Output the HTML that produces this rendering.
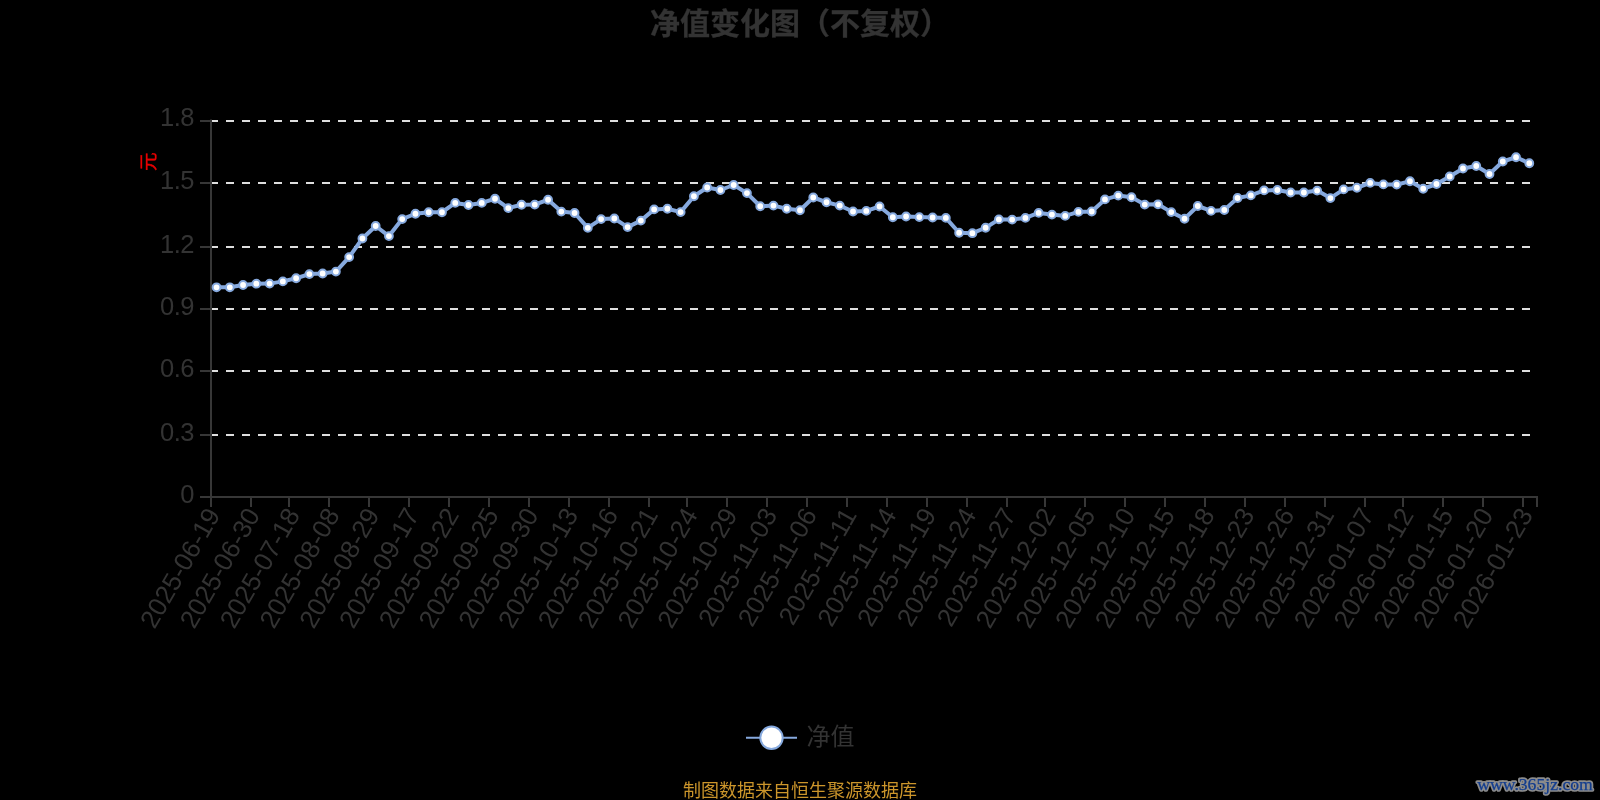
<!DOCTYPE html>
<html lang="zh-CN">
<head>
<meta charset="utf-8">
<title>净值变化图（不复权）</title>
<style>
html,body{margin:0;padding:0;background:#000;}
body{width:1600px;height:800px;overflow:hidden;position:relative;}
svg{display:block;position:absolute;left:0;top:0;will-change:transform;}
text{font-family:"Liberation Sans","Noto Sans CJK SC",sans-serif;}
.ax{font-size:26px;fill:#333333;}
.ay{font-size:25.5px;letter-spacing:-0.5px;}
.title{font-size:30px;font-weight:bold;fill:#333333;stroke:#333333;stroke-width:0.3px;}
.leg{font-size:24px;fill:#333333;}
.src{font-size:18px;fill:#cb952b;}
.unit{font-size:18.5px;fill:#e60000;stroke:#e60000;stroke-width:0.35px;}
.wm{font-family:"Liberation Serif","DejaVu Serif",serif;font-size:17px;}
.wmo{fill:#8c8c8c;stroke:#8c8c8c;stroke-width:3.6px;stroke-linejoin:round;}
.wmi{fill:#123c8e;stroke:#123c8e;stroke-width:0.25px;}
</style>
</head>
<body>
<svg width="1600" height="800" viewBox="0 0 1600 800">
<rect x="0" y="0" width="1600" height="800" fill="#000000"/>
<text class="title" x="800" y="33.5" text-anchor="middle">净值变化图（不复权）</text>
<g stroke="#dedede" stroke-width="2" stroke-dasharray="8 8" fill="none">
<line x1="210" y1="121" x2="1536" y2="121"/>
<line x1="210" y1="183" x2="1536" y2="183"/>
<line x1="210" y1="247" x2="1536" y2="247"/>
<line x1="210" y1="309" x2="1536" y2="309"/>
<line x1="210" y1="371" x2="1536" y2="371"/>
<line x1="210" y1="435" x2="1536" y2="435"/>
</g>
<g stroke="#373737" stroke-width="2" fill="none">
<line x1="211" y1="119.5" x2="211" y2="507"/>
<line x1="210" y1="497" x2="1538" y2="497"/>
<line x1="200" y1="121" x2="210" y2="121"/>
<line x1="200" y1="183" x2="210" y2="183"/>
<line x1="200" y1="247" x2="210" y2="247"/>
<line x1="200" y1="309" x2="210" y2="309"/>
<line x1="200" y1="371" x2="210" y2="371"/>
<line x1="200" y1="435" x2="210" y2="435"/>
<line x1="200" y1="497" x2="210" y2="497"/>
<line x1="211" y1="497" x2="211" y2="507"/>
<line x1="251" y1="497" x2="251" y2="507"/>
<line x1="289" y1="497" x2="289" y2="507"/>
<line x1="329" y1="497" x2="329" y2="507"/>
<line x1="369" y1="497" x2="369" y2="507"/>
<line x1="409" y1="497" x2="409" y2="507"/>
<line x1="449" y1="497" x2="449" y2="507"/>
<line x1="489" y1="497" x2="489" y2="507"/>
<line x1="529" y1="497" x2="529" y2="507"/>
<line x1="569" y1="497" x2="569" y2="507"/>
<line x1="609" y1="497" x2="609" y2="507"/>
<line x1="649" y1="497" x2="649" y2="507"/>
<line x1="687" y1="497" x2="687" y2="507"/>
<line x1="727" y1="497" x2="727" y2="507"/>
<line x1="767" y1="497" x2="767" y2="507"/>
<line x1="807" y1="497" x2="807" y2="507"/>
<line x1="847" y1="497" x2="847" y2="507"/>
<line x1="887" y1="497" x2="887" y2="507"/>
<line x1="927" y1="497" x2="927" y2="507"/>
<line x1="967" y1="497" x2="967" y2="507"/>
<line x1="1007" y1="497" x2="1007" y2="507"/>
<line x1="1045" y1="497" x2="1045" y2="507"/>
<line x1="1085" y1="497" x2="1085" y2="507"/>
<line x1="1125" y1="497" x2="1125" y2="507"/>
<line x1="1165" y1="497" x2="1165" y2="507"/>
<line x1="1205" y1="497" x2="1205" y2="507"/>
<line x1="1245" y1="497" x2="1245" y2="507"/>
<line x1="1285" y1="497" x2="1285" y2="507"/>
<line x1="1325" y1="497" x2="1325" y2="507"/>
<line x1="1365" y1="497" x2="1365" y2="507"/>
<line x1="1403" y1="497" x2="1403" y2="507"/>
<line x1="1443" y1="497" x2="1443" y2="507"/>
<line x1="1483" y1="497" x2="1483" y2="507"/>
<line x1="1523" y1="497" x2="1523" y2="507"/>
<line x1="1537" y1="497" x2="1537" y2="507"/>
</g>
<g class="ax ay" text-anchor="end">
<text x="194" y="125.9">1.8</text>
<text x="194" y="188.8">1.5</text>
<text x="194" y="252.8">1.2</text>
<text x="194" y="314.8">0.9</text>
<text x="194" y="376.8">0.6</text>
<text x="194" y="440.8">0.3</text>
<text x="194" y="502.8">0</text>
</g>
<g class="ax" text-anchor="end">
<text transform="translate(216.90 512.4) rotate(-60)" x="0" y="4.8">2025-06-19</text>
<text transform="translate(256.68 512.4) rotate(-60)" x="0" y="4.8">2025-06-30</text>
<text transform="translate(296.46 512.4) rotate(-60)" x="0" y="4.8">2025-07-18</text>
<text transform="translate(336.24 512.4) rotate(-60)" x="0" y="4.8">2025-08-08</text>
<text transform="translate(376.02 512.4) rotate(-60)" x="0" y="4.8">2025-08-29</text>
<text transform="translate(415.80 512.4) rotate(-60)" x="0" y="4.8">2025-09-17</text>
<text transform="translate(455.58 512.4) rotate(-60)" x="0" y="4.8">2025-09-22</text>
<text transform="translate(495.36 512.4) rotate(-60)" x="0" y="4.8">2025-09-25</text>
<text transform="translate(535.14 512.4) rotate(-60)" x="0" y="4.8">2025-09-30</text>
<text transform="translate(574.92 512.4) rotate(-60)" x="0" y="4.8">2025-10-13</text>
<text transform="translate(614.70 512.4) rotate(-60)" x="0" y="4.8">2025-10-16</text>
<text transform="translate(654.48 512.4) rotate(-60)" x="0" y="4.8">2025-10-21</text>
<text transform="translate(694.26 512.4) rotate(-60)" x="0" y="4.8">2025-10-24</text>
<text transform="translate(734.04 512.4) rotate(-60)" x="0" y="4.8">2025-10-29</text>
<text transform="translate(773.82 512.4) rotate(-60)" x="0" y="4.8">2025-11-03</text>
<text transform="translate(813.60 512.4) rotate(-60)" x="0" y="4.8">2025-11-06</text>
<text transform="translate(853.38 512.4) rotate(-60)" x="0" y="4.8">2025-11-11</text>
<text transform="translate(893.16 512.4) rotate(-60)" x="0" y="4.8">2025-11-14</text>
<text transform="translate(932.94 512.4) rotate(-60)" x="0" y="4.8">2025-11-19</text>
<text transform="translate(972.72 512.4) rotate(-60)" x="0" y="4.8">2025-11-24</text>
<text transform="translate(1012.50 512.4) rotate(-60)" x="0" y="4.8">2025-11-27</text>
<text transform="translate(1052.28 512.4) rotate(-60)" x="0" y="4.8">2025-12-02</text>
<text transform="translate(1092.06 512.4) rotate(-60)" x="0" y="4.8">2025-12-05</text>
<text transform="translate(1131.84 512.4) rotate(-60)" x="0" y="4.8">2025-12-10</text>
<text transform="translate(1171.62 512.4) rotate(-60)" x="0" y="4.8">2025-12-15</text>
<text transform="translate(1211.40 512.4) rotate(-60)" x="0" y="4.8">2025-12-18</text>
<text transform="translate(1251.18 512.4) rotate(-60)" x="0" y="4.8">2025-12-23</text>
<text transform="translate(1290.96 512.4) rotate(-60)" x="0" y="4.8">2025-12-26</text>
<text transform="translate(1330.74 512.4) rotate(-60)" x="0" y="4.8">2025-12-31</text>
<text transform="translate(1370.52 512.4) rotate(-60)" x="0" y="4.8">2026-01-07</text>
<text transform="translate(1410.30 512.4) rotate(-60)" x="0" y="4.8">2026-01-12</text>
<text transform="translate(1450.08 512.4) rotate(-60)" x="0" y="4.8">2026-01-15</text>
<text transform="translate(1489.86 512.4) rotate(-60)" x="0" y="4.8">2026-01-20</text>
<text transform="translate(1529.64 512.4) rotate(-60)" x="0" y="4.8">2026-01-23</text>
</g>
<text class="unit" text-anchor="middle" transform="translate(148.9 161.8) rotate(-90)" x="0" y="6.5">元</text>
<polyline points="216.55,287.30 229.81,287.30 243.07,285.00 256.33,283.70 269.59,283.60 282.85,281.40 296.11,278.25 309.37,274.10 322.63,273.50 335.89,271.60 349.15,257.10 362.41,238.50 375.67,226.00 388.93,236.10 402.19,219.10 415.45,213.75 428.71,212.25 441.97,212.25 455.23,202.90 468.49,205.00 481.75,202.90 495.01,198.75 508.27,208.10 521.53,204.75 534.79,204.60 548.05,199.75 561.31,211.60 574.57,213.00 587.83,227.80 601.09,219.10 614.35,218.50 627.61,227.10 640.87,220.60 654.13,209.40 667.39,208.75 680.65,212.10 693.91,196.25 707.17,187.50 720.43,190.00 733.69,185.00 746.95,193.10 760.21,206.25 773.47,205.60 786.73,208.75 799.99,210.25 813.25,197.50 826.51,202.25 839.77,205.60 853.03,211.50 866.29,210.90 879.55,206.50 892.81,217.25 906.07,216.50 919.33,217.10 932.59,217.50 945.85,217.90 959.11,232.75 972.37,233.20 985.63,227.75 998.89,219.40 1012.15,219.60 1025.41,217.90 1038.67,212.90 1051.93,214.60 1065.19,215.90 1078.45,211.90 1091.71,211.50 1104.97,199.40 1118.23,195.60 1131.49,197.25 1144.75,204.60 1158.01,204.30 1171.27,212.10 1184.53,218.75 1197.79,206.00 1211.05,210.90 1224.31,210.00 1237.57,198.00 1250.83,195.40 1264.09,190.40 1277.35,190.00 1290.61,192.50 1303.87,192.50 1317.13,190.60 1330.39,198.10 1343.65,189.40 1356.91,187.75 1370.17,182.90 1383.43,184.40 1396.69,184.60 1409.95,181.25 1423.21,188.75 1436.47,184.00 1449.73,176.50 1462.99,168.50 1476.25,166.00 1489.51,174.00 1502.77,161.50 1516.03,157.25 1529.29,163.25" fill="none" stroke="#86a9de" stroke-width="4" stroke-linejoin="bevel" stroke-linecap="butt"/>
<g fill="#ffffff" stroke="#86a9de" stroke-width="2">
<circle cx="216.55" cy="287.30" r="3.9"/>
<circle cx="229.81" cy="287.30" r="3.9"/>
<circle cx="243.07" cy="285.00" r="3.9"/>
<circle cx="256.33" cy="283.70" r="3.9"/>
<circle cx="269.59" cy="283.60" r="3.9"/>
<circle cx="282.85" cy="281.40" r="3.9"/>
<circle cx="296.11" cy="278.25" r="3.9"/>
<circle cx="309.37" cy="274.10" r="3.9"/>
<circle cx="322.63" cy="273.50" r="3.9"/>
<circle cx="335.89" cy="271.60" r="3.9"/>
<circle cx="349.15" cy="257.10" r="3.9"/>
<circle cx="362.41" cy="238.50" r="3.9"/>
<circle cx="375.67" cy="226.00" r="3.9"/>
<circle cx="388.93" cy="236.10" r="3.9"/>
<circle cx="402.19" cy="219.10" r="3.9"/>
<circle cx="415.45" cy="213.75" r="3.9"/>
<circle cx="428.71" cy="212.25" r="3.9"/>
<circle cx="441.97" cy="212.25" r="3.9"/>
<circle cx="455.23" cy="202.90" r="3.9"/>
<circle cx="468.49" cy="205.00" r="3.9"/>
<circle cx="481.75" cy="202.90" r="3.9"/>
<circle cx="495.01" cy="198.75" r="3.9"/>
<circle cx="508.27" cy="208.10" r="3.9"/>
<circle cx="521.53" cy="204.75" r="3.9"/>
<circle cx="534.79" cy="204.60" r="3.9"/>
<circle cx="548.05" cy="199.75" r="3.9"/>
<circle cx="561.31" cy="211.60" r="3.9"/>
<circle cx="574.57" cy="213.00" r="3.9"/>
<circle cx="587.83" cy="227.80" r="3.9"/>
<circle cx="601.09" cy="219.10" r="3.9"/>
<circle cx="614.35" cy="218.50" r="3.9"/>
<circle cx="627.61" cy="227.10" r="3.9"/>
<circle cx="640.87" cy="220.60" r="3.9"/>
<circle cx="654.13" cy="209.40" r="3.9"/>
<circle cx="667.39" cy="208.75" r="3.9"/>
<circle cx="680.65" cy="212.10" r="3.9"/>
<circle cx="693.91" cy="196.25" r="3.9"/>
<circle cx="707.17" cy="187.50" r="3.9"/>
<circle cx="720.43" cy="190.00" r="3.9"/>
<circle cx="733.69" cy="185.00" r="3.9"/>
<circle cx="746.95" cy="193.10" r="3.9"/>
<circle cx="760.21" cy="206.25" r="3.9"/>
<circle cx="773.47" cy="205.60" r="3.9"/>
<circle cx="786.73" cy="208.75" r="3.9"/>
<circle cx="799.99" cy="210.25" r="3.9"/>
<circle cx="813.25" cy="197.50" r="3.9"/>
<circle cx="826.51" cy="202.25" r="3.9"/>
<circle cx="839.77" cy="205.60" r="3.9"/>
<circle cx="853.03" cy="211.50" r="3.9"/>
<circle cx="866.29" cy="210.90" r="3.9"/>
<circle cx="879.55" cy="206.50" r="3.9"/>
<circle cx="892.81" cy="217.25" r="3.9"/>
<circle cx="906.07" cy="216.50" r="3.9"/>
<circle cx="919.33" cy="217.10" r="3.9"/>
<circle cx="932.59" cy="217.50" r="3.9"/>
<circle cx="945.85" cy="217.90" r="3.9"/>
<circle cx="959.11" cy="232.75" r="3.9"/>
<circle cx="972.37" cy="233.20" r="3.9"/>
<circle cx="985.63" cy="227.75" r="3.9"/>
<circle cx="998.89" cy="219.40" r="3.9"/>
<circle cx="1012.15" cy="219.60" r="3.9"/>
<circle cx="1025.41" cy="217.90" r="3.9"/>
<circle cx="1038.67" cy="212.90" r="3.9"/>
<circle cx="1051.93" cy="214.60" r="3.9"/>
<circle cx="1065.19" cy="215.90" r="3.9"/>
<circle cx="1078.45" cy="211.90" r="3.9"/>
<circle cx="1091.71" cy="211.50" r="3.9"/>
<circle cx="1104.97" cy="199.40" r="3.9"/>
<circle cx="1118.23" cy="195.60" r="3.9"/>
<circle cx="1131.49" cy="197.25" r="3.9"/>
<circle cx="1144.75" cy="204.60" r="3.9"/>
<circle cx="1158.01" cy="204.30" r="3.9"/>
<circle cx="1171.27" cy="212.10" r="3.9"/>
<circle cx="1184.53" cy="218.75" r="3.9"/>
<circle cx="1197.79" cy="206.00" r="3.9"/>
<circle cx="1211.05" cy="210.90" r="3.9"/>
<circle cx="1224.31" cy="210.00" r="3.9"/>
<circle cx="1237.57" cy="198.00" r="3.9"/>
<circle cx="1250.83" cy="195.40" r="3.9"/>
<circle cx="1264.09" cy="190.40" r="3.9"/>
<circle cx="1277.35" cy="190.00" r="3.9"/>
<circle cx="1290.61" cy="192.50" r="3.9"/>
<circle cx="1303.87" cy="192.50" r="3.9"/>
<circle cx="1317.13" cy="190.60" r="3.9"/>
<circle cx="1330.39" cy="198.10" r="3.9"/>
<circle cx="1343.65" cy="189.40" r="3.9"/>
<circle cx="1356.91" cy="187.75" r="3.9"/>
<circle cx="1370.17" cy="182.90" r="3.9"/>
<circle cx="1383.43" cy="184.40" r="3.9"/>
<circle cx="1396.69" cy="184.60" r="3.9"/>
<circle cx="1409.95" cy="181.25" r="3.9"/>
<circle cx="1423.21" cy="188.75" r="3.9"/>
<circle cx="1436.47" cy="184.00" r="3.9"/>
<circle cx="1449.73" cy="176.50" r="3.9"/>
<circle cx="1462.99" cy="168.50" r="3.9"/>
<circle cx="1476.25" cy="166.00" r="3.9"/>
<circle cx="1489.51" cy="174.00" r="3.9"/>
<circle cx="1502.77" cy="161.50" r="3.9"/>
<circle cx="1516.03" cy="157.25" r="3.9"/>
<circle cx="1529.29" cy="163.25" r="3.9"/>
</g>
<line x1="746" y1="737.8" x2="797" y2="737.8" stroke="#86a9de" stroke-width="2"/>
<circle cx="771.5" cy="737.8" r="11.2" fill="#ffffff" stroke="#86a9de" stroke-width="2"/>
<text class="leg" x="806.5" y="745">净值</text>
<text class="src" x="800" y="796.5" text-anchor="middle">制图数据来自恒生聚源数据库</text>
<text class="wm wmo" x="1477.3" y="789.9" textLength="115.5" lengthAdjust="spacingAndGlyphs">www.365jz.com</text>
<text class="wm wmi" x="1477.3" y="789.9" textLength="115.5" lengthAdjust="spacingAndGlyphs">www.365jz.com</text>
</svg>
</body>
</html>
